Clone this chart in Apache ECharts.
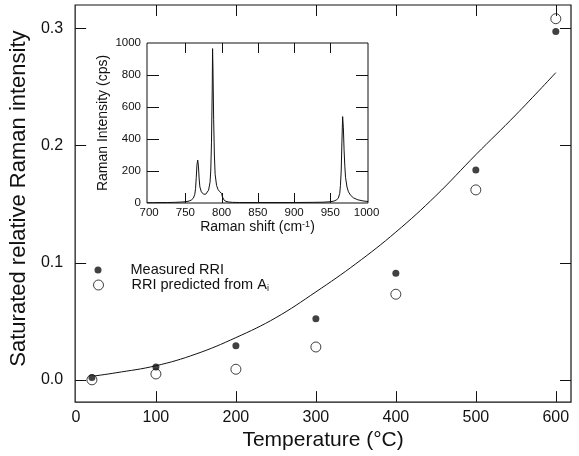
<!DOCTYPE html>
<html>
<head>
<meta charset="utf-8">
<script src="https://cdn.jsdelivr.net/npm/echarts@6/dist/echarts.min.js"></script>
<style>html,body{margin:0;padding:0;background:#fff;}#c{width:579px;height:456px;}</style>
</head>
<body>
<div id="c"></div>
<script>
// Main chart data
const tempC = [20, 100, 200, 300, 400, 500, 600];
const measuredRRI = [0.002, 0.011, 0.029, 0.052, 0.091, 0.179, 0.297];
const predictedRRI = [0.000, 0.005, 0.009, 0.028, 0.073, 0.162, 0.308];
const curveT = [20, 50, 100, 150, 200, 250, 300, 350, 400, 450, 500, 550, 600];
const curveRRI = [0.003, 0.006, 0.012, 0.022, 0.036, 0.053, 0.075, 0.099, 0.126, 0.157, 0.192, 0.226, 0.262];
const xTicks = [0, 100, 200, 300, 400, 500, 600];
const yTicks = [0, 0.1, 0.2, 0.3];
// Inset spectrum data
const ramanShift = [697,705,715,725,735,745,750,755,758,761,763,764,765,766,767,768,769,770,772,775,778,780,782,784,785,786,787,787.5,788,789,790,791,793,795,797,798,799,800,801,803,806,810,815,825,850,875,900,925,940,950,955,958,961,963,964,965,966,967,968,969,970,971,973,975,978,982,988,995,1002];
const ramanIntensity = [2,2,3,3,4,6,8,12,18,30,55,90,160,240,268,230,150,100,70,55,55,62,80,130,200,380,700,965,850,520,300,180,110,85,72,70,68,60,40,20,10,6,4,3,3,3,3,4,5,8,12,18,30,60,110,200,380,540,470,330,230,160,100,70,48,32,20,13,9];
const insetXTicks = [700, 750, 800, 850, 900, 950, 1000];
const insetYTicks = [0, 200, 400, 600, 800, 1000];

const FONT = 'Liberation Sans, Arial, sans-serif';
const INK = '#111';
const zip = (a, b) => a.map((v, i) => [v, b[i]]);

const chart = echarts.init(document.getElementById('c'), null, {renderer: 'canvas'});

function labelAxis(extra) {
  return Object.assign({
    splitLine: {show: false},
    axisLine: {show: false, onZero: false},
    axisTick: {show: false}
  }, extra);
}

const MX = {type: 'value', min: -1, max: 619};
const MY = {type: 'value', min: -0.019, max: 0.3197};
const IX = {type: 'value', min: 697, max: 1002};
const IY = {type: 'value', min: 0, max: 1000, interval: 200};

const option = {
  backgroundColor: '#fff',
  animation: false,
  grid: [
    {left: 75, top: 5, width: 496, height: 398, show: true, borderColor: INK, borderWidth: 1.2, backgroundColor: 'transparent'},
    {left: 147, top: 43, width: 221, height: 160, show: true, borderColor: INK, borderWidth: 1, backgroundColor: '#fff'}
  ],
  xAxis: [
    labelAxis(Object.assign({gridIndex: 0, position: 'bottom',
      axisLabel: {show: true, customValues: xTicks, margin: 7, fontSize: 16, fontFamily: FONT, color: INK},
      name: 'Temperature (°C)', nameLocation: 'middle', nameGap: 23,
      nameTextStyle: {fontSize: 21, fontFamily: FONT, color: INK}}, MX)),
    labelAxis(Object.assign({gridIndex: 1, position: 'bottom',
      axisLabel: {show: true, customValues: insetXTicks, margin: 4, fontSize: 11.5, fontFamily: FONT, color: INK,
        formatter: v => String(v)},
      name: 'Raman shift (cm{sup|-1})', nameLocation: 'middle', nameGap: 16,
      nameTextStyle: {fontSize: 14, fontFamily: FONT, color: INK,
        rich: {sup: {fontSize: 9, verticalAlign: 'top', fontFamily: FONT, color: INK, padding: [0, 0, 6, 0]}}}}, IX))
  ],
  yAxis: [
    labelAxis(Object.assign({gridIndex: 0, position: 'left',
      axisLabel: {show: true, customValues: yTicks, margin: 12, fontSize: 16, fontFamily: FONT, color: INK,
        formatter: v => v.toFixed(1)},
      name: 'Saturated relative Raman intensity', nameLocation: 'middle', nameGap: 42,
      nameTextStyle: {fontSize: 22, fontFamily: FONT, color: INK, padding: [0, 0, 0, 10]}}, MY)),
    labelAxis(Object.assign({gridIndex: 1, position: 'left',
      axisLabel: {show: true, margin: 6, fontSize: 11.5, fontFamily: FONT, color: INK, formatter: v => String(v)},
      name: 'Raman Intensity (cps)', nameLocation: 'middle', nameGap: 37,
      nameTextStyle: {fontSize: 14, fontFamily: FONT, color: INK}}, IY))
  ],
  legend: [
    {data: ['Measured RRI'], left: 94.5, top: 262, padding: 0, orient: 'vertical', selectedMode: false,
      itemWidth: 7, itemHeight: 7, icon: 'circle',
      itemStyle: {color: INK, borderWidth: 0},
      textStyle: {fontSize: 14.5, fontFamily: FONT, color: INK, lineHeight: 16, padding: [0, 0, 0, 24]}},
    {data: ['RRI predicted from Ai'], left: 93, top: 277, padding: 0, orient: 'vertical', selectedMode: false,
      itemWidth: 10, itemHeight: 10, icon: 'circle',
      itemStyle: {color: '#fff', borderColor: INK, borderWidth: 1},
      formatter: () => 'RRI predicted from A{sub|i}',
      textStyle: {fontSize: 14.5, fontFamily: FONT, color: INK, lineHeight: 16, padding: [0, 0, 0, 23],
        rich: {sub: {fontSize: 9, fontFamily: FONT, color: INK, verticalAlign: 'bottom', lineHeight: 9, padding: [6, 0, 0, 0]}}}}
  ],
  series: [
    {type: 'line', name: 'fit', xAxisIndex: 0, yAxisIndex: 0, data: zip(curveT, curveRRI),
      smooth: 0.4, showSymbol: false, symbol: 'none', lineStyle: {color: INK, width: 1}, z: 2, silent: true},
    {type: 'scatter', name: 'RRI predicted from Ai', xAxisIndex: 0, yAxisIndex: 0, data: zip(tempC, predictedRRI),
      symbol: 'circle', symbolSize: 10, itemStyle: {color: '#fff', borderColor: INK, borderWidth: 1}, z: 3},
    {type: 'scatter', name: 'Measured RRI', xAxisIndex: 0, yAxisIndex: 0, data: zip(tempC, measuredRRI),
      symbol: 'circle', symbolSize: 7, itemStyle: {color: INK}, z: 4},
    {type: 'line', name: 'spectrum', xAxisIndex: 1, yAxisIndex: 1, data: zip(ramanShift, ramanIntensity),
      smooth: false, showSymbol: false, symbol: 'none', lineStyle: {color: INK, width: 1}, z: 5, silent: true}
  ]
};
chart.setOption(option);

// Inward tick marks on all four sides, positioned through the axes' own scales
const ticks = [];
function seg(x1, y1, x2, y2) {
  ticks.push({type: 'line', silent: true, z: 100,
    shape: {x1: x1, y1: y1, x2: x2, y2: y2}, style: {stroke: INK, lineWidth: 1}});
}
const snap = v => Math.round(v) + 0.5;
function frameTicks(xi, yi, X, Y, xs, ys, lx, ly) {
  const finder = {xAxisIndex: xi, yAxisIndex: yi};
  xs.forEach(v => {
    const b = chart.convertToPixel(finder, [v, Y.min]);
    const t = chart.convertToPixel(finder, [v, Y.max]);
    const x = snap(b[0]);
    seg(x, b[1], x, b[1] - lx);
    seg(x, t[1], x, t[1] + lx);
  });
  ys.forEach(v => {
    const l = chart.convertToPixel(finder, [X.min, v]);
    const r = chart.convertToPixel(finder, [X.max, v]);
    const y = snap(l[1]);
    seg(l[0], y, l[0] + ly, y);
    seg(r[0], y, r[0] - ly, y);
  });
}
frameTicks(0, 0, MX, MY, xTicks.slice(1), yTicks, 11, 11);
frameTicks(1, 1, IX, IY, insetXTicks.slice(1, -1), insetYTicks.slice(1, -1), 10, 12);
chart.setOption({graphic: {elements: ticks}});
</script>
</body>
</html>
